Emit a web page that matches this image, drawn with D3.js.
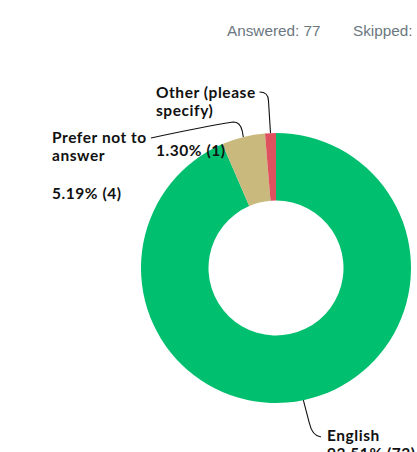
<!DOCTYPE html>
<html>
<head>
<meta charset="utf-8">
<script src="https://cdn.jsdelivr.net/npm/d3@7"></script>
<style>
  html, body { margin: 0; padding: 0; background: #fff; overflow: hidden; }
  .label { font-family: Lato, 'Open Sans', sans-serif; font-size: 15.5px; font-weight: 700; letter-spacing: 0.55px; fill: #111; }
  .stats { font-family: 'Liberation Sans', Arial, sans-serif; font-size: 15.3px; fill: #6b787f; }
</style>
</head>
<body>
<div class="chart"></div>
<script>
/* global d3 */
'use strict'
const categories = ['English', 'Prefer not to answer', 'Other (please specify)']
const percents = [93.51, 5.19, 1.30]
const counts = [72, 4, 1]
const nameLines = [['English'], ['Prefer not to', 'answer'], ['Other (please', 'specify)']]
const colors = ['#00bf6f', '#c9b97c', '#e0515f']
const answered = 77

const width = 417
const height = 452
const cx = 276
const cy = 268
const outer = 135
const inner = 67.5

const svg = d3.select('.chart').append('svg')
  .attr('width', width)
  .attr('height', height)

svg.append('text')
  .attr('class', 'stats')
  .attr('x', 227)
  .attr('y', 36)
  .text('Answered: ' + answered)

svg.append('text')
  .attr('class', 'stats')
  .attr('x', 353)
  .attr('y', 36)
  .text('Skipped:')

const data = categories.map(function (c, i) {
  return { name: c, pct: percents[i], count: counts[i], lines: nameLines[i], color: colors[i] }
})

const pie = d3.pie().sort(null).value(function (d) { return d.count })
const arc = d3.arc().innerRadius(inner).outerRadius(outer)
const arcs = pie(data)

const g = svg.append('g').attr('transform', 'translate(' + cx + ',' + cy + ')')
g.selectAll('path.slice')
  .data(arcs)
  .enter().append('path')
  .attr('class', 'slice')
  .attr('d', arc)
  .attr('fill', function (d) { return d.data.color })

// point on the outer edge at the middle of a slice, in page coords
const edge = function (d) {
  const a = (d.startAngle + d.endAngle) / 2
  return [cx + outer * Math.sin(a), cy - outer * Math.cos(a)]
}

// label blocks: x, baseline of first name line, baseline of percent line
const labelPos = [
  { x: 327, y: 441, py: 459 },
  { x: 52, y: 143, py: 199 },
  { x: 156, y: 98, py: 156 }
]
const lineH = 18

arcs.forEach(function (d, i) {
  const p = labelPos[i]
  const t = svg.append('text').attr('class', 'label')
  d.data.lines.forEach(function (l, j) {
    t.append('tspan').attr('x', p.x).attr('y', p.y + j * lineH).text(l)
  })
  svg.append('text').attr('class', 'label')
    .attr('x', p.x).attr('y', p.py)
    .text(d.data.pct.toFixed(2) + '% (' + d.data.count + ')')
})

// leader lines
const e = arcs.map(edge)
const leaders = []
let path = d3.path()
path.moveTo(e[0][0], e[0][1])
path.lineTo(e[0][0] + 6, e[0][1] + 23)
path.quadraticCurveTo(e[0][0] + 9, e[0][1] + 36, labelPos[0].x - 6, labelPos[0].y - 4)
leaders.push(path.toString())

path = d3.path()
path.moveTo(labelPos[1].x + 99, labelPos[1].y - 5)
path.quadraticCurveTo(labelPos[1].x + 150, labelPos[1].y - 16, e[1][0] - 10, e[1][1] - 15)
path.quadraticCurveTo(e[1][0] - 3, e[1][1] - 15, e[1][0] - 1, e[1][1] - 6)
path.lineTo(e[1][0], e[1][1])
leaders.push(path.toString())

path = d3.path()
path.moveTo(e[2][0] - 11, labelPos[2].y - 6)
path.quadraticCurveTo(e[2][0] - 2, labelPos[2].y - 6, e[2][0] - 2, labelPos[2].y + 3)
path.lineTo(e[2][0], e[2][1])
leaders.push(path.toString())

svg.append('g').selectAll('path')
  .data(leaders)
  .enter().append('path')
  .attr('d', function (d) { return d })
  .attr('fill', 'none')
  .attr('stroke', '#111')
  .attr('stroke-width', 1.1)
</script>
</body>
</html>
